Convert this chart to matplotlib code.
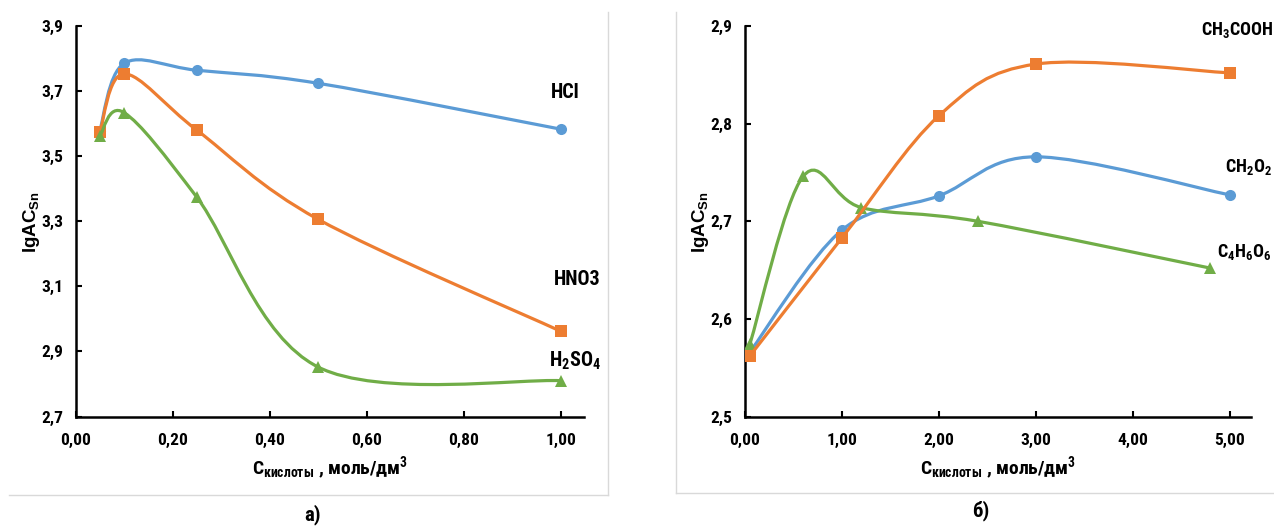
import numpy as np
import matplotlib
matplotlib.use("Agg")
import matplotlib.pyplot as plt
from matplotlib.path import Path
from matplotlib.patches import PathPatch
from matplotlib.lines import Line2D

# ---------------- data ----------------
# panel a) : mineral acids
conc_a = [0.05, 0.10, 0.25, 0.50, 1.00]
hcl = [3.578, 3.785, 3.764, 3.724, 3.583]
hno3 = [3.573, 3.753, 3.580, 3.306, 2.962]
h2so4 = [3.562, 3.634, 3.374, 2.852, 2.810]

# panel б) : organic acids
conc_ch2o2 = [0.05, 1.0, 2.0, 3.0, 5.0]
ch2o2 = [2.566, 2.691, 2.726, 2.766, 2.727]
conc_ch3cooh = [0.05, 1.0, 2.0, 3.0, 5.0]
ch3cooh = [2.562, 2.683, 2.808, 2.861, 2.852]
conc_c4h6o6 = [0.05, 0.6, 1.2, 2.4, 4.8]
c4h6o6 = [2.574, 2.746, 2.714, 2.700, 2.652]

xticks_a = [0.0, 0.2, 0.4, 0.6, 0.8, 1.0]
xticklabels_a = ["0,00", "0,20", "0,40", "0,60", "0,80", "1,00"]
yticks_a = [2.7, 2.9, 3.1, 3.3, 3.5, 3.7, 3.9]
yticklabels_a = ["2,7", "2,9", "3,1", "3,3", "3,5", "3,7", "3,9"]

xticks_b = [0, 1, 2, 3, 4, 5]
xticklabels_b = ["0,00", "1,00", "2,00", "3,00", "4,00", "5,00"]
yticks_b = [2.5, 2.6, 2.7, 2.8, 2.9]
yticklabels_b = ["2,5", "2,6", "2,7", "2,8", "2,9"]

BLUE = "#5B9BD5"
ORANGE = "#ED7D31"
GREEN = "#70AD47"

NARROW = ["Roboto Condensed", "PT Sans Narrow", "DejaVu Sans"]
plt.rcParams["font.family"] = NARROW
plt.rcParams["font.weight"] = "bold"
plt.rcParams["mathtext.fontset"] = "custom"
plt.rcParams["mathtext.rm"] = "Roboto Condensed:bold"
plt.rcParams["mathtext.bf"] = "Roboto Condensed:bold"
plt.rcParams["mathtext.it"] = "Roboto Condensed:bold"
plt.rcParams["mathtext.sf"] = "Liberation Sans:bold"
plt.rcParams["mathtext.default"] = "rm"


def smooth_series(ax, x, y, color, marker, ms, z):
    """Spreadsheet-style smoothed line (cubic Bezier through every point)."""
    pts = np.column_stack([x, y]).astype(float)
    n = len(pts)
    verts = [pts[0]]
    codes = [Path.MOVETO]
    for i in range(n - 1):
        p_prev = pts[i - 1] if i > 0 else pts[i]
        p_next = pts[i + 2] if i + 2 < n else pts[i + 1]
        c1 = pts[i] + (pts[i + 1] - p_prev) / 6.0
        c2 = pts[i + 1] - (p_next - pts[i]) / 6.0
        verts += [c1, c2, pts[i + 1]]
        codes += [Path.CURVE4] * 3
    patch = PathPatch(Path(verts, codes), facecolor="none", edgecolor=color,
                      lw=2.3, capstyle="round", joinstyle="round", zorder=z)
    ax.add_patch(patch)
    ax.plot(x, y, linestyle="none", marker=marker, markersize=ms,
            color=color, markeredgewidth=0, zorder=z + 0.5)


def style_axes(ax, xlim, ylim, xt, xtl, yt, ytl):
    ax.set_xlim(*xlim)
    ax.set_ylim(*ylim)
    ax.set_xticks(xt)
    ax.set_xticklabels(xtl)
    ax.set_yticks(yt)
    ax.set_yticklabels(ytl)
    for s in ("top", "right"):
        ax.spines[s].set_visible(False)
    for s in ("left", "bottom"):
        ax.spines[s].set_linewidth(1.8)
        ax.spines[s].set_color("black")
    ax.tick_params(axis="both", direction="in", length=4, width=1.5,
                   labelsize=12.5, colors="black")
    ax.tick_params(axis="y", pad=9)
    ax.tick_params(axis="x", pad=12)
    for lab in ax.get_xticklabels() + ax.get_yticklabels():
        lab.set_fontweight("bold")
    ax.set_xlabel(r"C$_{\mathrm{кислоты}}$ , моль/дм$^{3}$", fontsize=14,
                  fontweight="bold", labelpad=5)
    ax.set_facecolor("none")


fig = plt.figure(figsize=(12.74, 5.27), dpi=100)
W, H = 1274.0, 527.0

# panel frames
frame_kw = dict(color="#d9d9d9", lw=1.0, transform=fig.transFigure)
fig.add_artist(Line2D([9 / W, 608 / W], [1 - 495 / H, 1 - 495 / H], **frame_kw))
fig.add_artist(Line2D([608 / W, 608 / W], [1 - 495 / H, 1 - 12 / H], **frame_kw))
fig.add_artist(Line2D([676 / W, 1274 / W], [1 - 493 / H, 1 - 493 / H], **frame_kw))
fig.add_artist(Line2D([676 / W, 676 / W], [1 - 493 / H, 1 - 12 / H], **frame_kw))

bottom = 1 - 416.5 / H
height = (416.5 - 26) / H

# ---------- panel a ----------
ax1 = fig.add_axes([75.5 / W, bottom, (584 - 75.5) / W, height])
style_axes(ax1, (0, 1.048), (2.7, 3.9), xticks_a, xticklabels_a,
           yticks_a, yticklabels_a)
smooth_series(ax1, conc_a, hcl, BLUE, "o", 8, 3)
smooth_series(ax1, conc_a, hno3, ORANGE, "s", 8.5, 4)
smooth_series(ax1, conc_a, h2so4, GREEN, "^", 8.5, 5)

ax1.text(1.010, 3.697, "HCl", fontsize=14.5, ha="center", va="center",
         fontweight="bold", clip_on=False)
ax1.text(1.033, 3.120, "HNO3", fontsize=14.5, ha="center", va="center",
         fontweight="bold", clip_on=False)
ax1.text(1.029, 2.872, r"H$_2$SO$_4$", fontsize=14.5, ha="center", va="center",
         fontweight="bold", clip_on=False)

# ---------- panel б ----------
ax2 = fig.add_axes([745 / W, bottom, (1251 - 745) / W, height])
style_axes(ax2, (0, 5.22), (2.5, 2.9), xticks_b, xticklabels_b,
           yticks_b, yticklabels_b)
smooth_series(ax2, conc_ch2o2, ch2o2, BLUE, "o", 8, 3)
smooth_series(ax2, conc_c4h6o6, c4h6o6, GREEN, "^", 8.5, 4)
smooth_series(ax2, conc_ch3cooh, ch3cooh, ORANGE, "s", 8.5, 5)

ax2.text(5.08, 2.8955, r"CH$_3$COOH", fontsize=13, ha="center", va="center",
         fontweight="bold", clip_on=False)
ax2.text(5.19, 2.756, r"CH$_2$O$_2$", fontsize=13, ha="center", va="center",
         fontweight="bold", clip_on=False)
ax2.text(5.15, 2.669, r"C$_4$H$_6$O$_6$", fontsize=13, ha="center", va="center",
         fontweight="bold", clip_on=False)

# y-axis titles
for xc in (31 / W, 700 / W):
    fig.text(xc, 1 - 222 / H, r"lgAC$_{\mathsf{Sn}}$", rotation=90,
             ha="center", va="center", fontsize=13.5, fontweight="bold",
             family=["Liberation Sans", "DejaVu Sans"])

# panel captions
fig.text(313 / W, 1 - 515 / H, "а)", ha="center", va="center", fontsize=15,
         fontweight="bold")
fig.text(981 / W, 1 - 511 / H, "б)", ha="center", va="center", fontsize=15,
         fontweight="bold")

fig.savefig("out.png", dpi=100)
